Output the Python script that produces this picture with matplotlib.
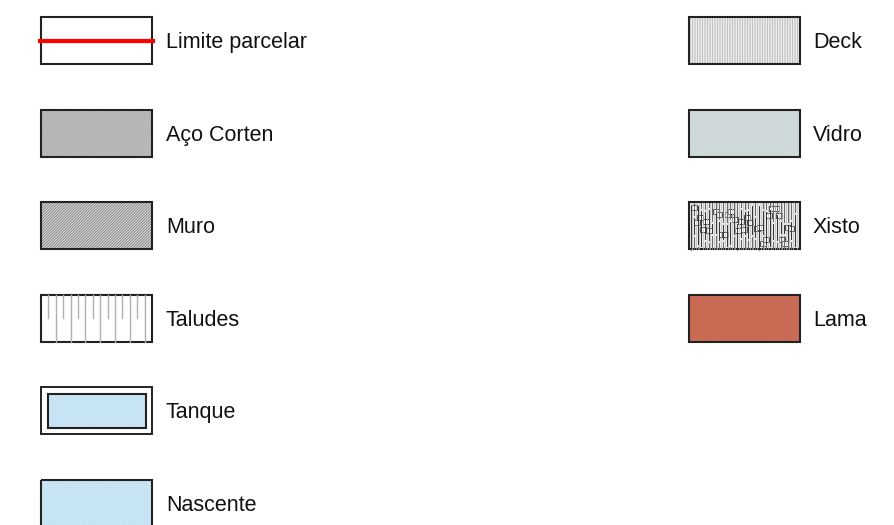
import matplotlib
matplotlib.use("Agg")
import matplotlib.pyplot as plt
from matplotlib.patches import Rectangle
from matplotlib.lines import Line2D

plt.rcParams['font.family'] = ['Liberation Sans', 'DejaVu Sans']

left_labels = ["Limite parcelar", "Aço Corten", "Muro", "Taludes", "Tanque", "Nascente"]
left_styles = ["line", "corten", "muro", "taludes", "tanque", "nascente"]
right_labels = ["Deck", "Vidro", "Xisto", "Lama"]
right_styles = ["deck", "vidro", "xisto", "lama"]

W, H = 894, 525
fig = plt.figure(figsize=(W / 100, H / 100), dpi=100)
ax = fig.add_axes([0, 0, 1, 1])
ax.set_xlim(0, W)
ax.set_ylim(H, 0)
ax.axis("off")

BW, BH = 111, 47
ROW0, STEP = 17, 92.6
EDGE = "#222222"


def hatched(x, y, face, hatch, hcolor, lw_h=0.8):
    plt.rcParams['hatch.linewidth'] = lw_h
    ax.add_patch(Rectangle((x, y), BW, BH, facecolor=face, edgecolor=hcolor,
                           hatch=hatch, linewidth=0))


def border(x, y, w=BW, h=BH, lw=1.5):
    ax.add_patch(Rectangle((x, y), w, h, facecolor="none", edgecolor=EDGE, linewidth=lw))


def draw(style, x, y):
    if style == "line":
        ax.add_patch(Rectangle((x, y), BW, BH, facecolor="white", linewidth=0))
        border(x, y)
        ax.add_line(Line2D([x - 1, x + BW + 1], [y + BH / 2, y + BH / 2], color="#ff0000", lw=3.0))
    elif style == "corten":
        hatched(x, y, "#cdcdcd", "/" * 14, "#a0a0a0", 0.6)
        border(x, y)
    elif style == "muro":
        hatched(x, y, "#dddddd", "/" * 12, "#7a7a7a", 0.6)
        border(x, y)
    elif style == "taludes":
        ax.add_patch(Rectangle((x, y), BW, BH, facecolor="white", linewidth=0))
        n = 15
        for i in range(1, n):
            xx = x + i * BW / n
            yend = y + BH if i % 2 == 0 else y + BH * 0.5
            ax.add_line(Line2D([xx, xx], [y, yend], color="#b0b0b0", lw=1.0))
        border(x, y)
    elif style == "tanque":
        ax.add_patch(Rectangle((x, y), BW, BH, facecolor="white", linewidth=0))
        border(x, y, lw=1.4)
        ix, iy = x + 7, y + 7
        plt.rcParams['hatch.linewidth'] = 0.5
        ax.add_patch(Rectangle((ix, iy), BW - 13, BH - 13, facecolor="#cbe6f6",
                               edgecolor="#bfe0f2", hatch="/" * 10, linewidth=0))
        ax.add_patch(Rectangle((ix, iy), BW - 13, BH - 13, facecolor="none",
                               edgecolor=EDGE, linewidth=1.5))
    elif style == "nascente":
        hatched(x, y, "#cbe6f6", "/" * 10, "#bfe0f2", 0.5)
        border(x, y)
    elif style == "deck":
        hatched(x, y, "white", "|" * 10, "#b5b5b5", 0.6)
        border(x, y)
    elif style == "vidro":
        hatched(x, y, "#d3dcdd", "/" * 10, "#c9d3d4", 0.5)
        border(x, y)
    elif style == "xisto":
        ax.add_patch(Rectangle((x, y), BW, BH, facecolor="#e9e9e9", linewidth=0))
        # vertical slab texture
        ncol = 30
        for k in range(ncol):
            sx = x + 1.5 + k * (BW - 3) / ncol
            a = (k * k * 7 + k * 3) % 17
            b = (k * k * 5 + k * 11) % 19
            top = y + 1 + a * 1.2
            bot = y + BH - 2 - b * 0.8
            ax.add_line(Line2D([sx, sx], [y + 0.5, top], color="#666666", lw=0.7))
            ax.add_line(Line2D([sx, sx], [top + 3, bot], color="#333333", lw=0.7))
            ax.add_line(Line2D([sx, sx], [bot + 3, y + BH - 0.5], color="#666666", lw=0.7))
            ax.add_line(Line2D([sx + 1.6, sx + 1.6], [y + 0.5, y + BH - 0.5], color="#bdbdbd", lw=0.5))
        for k in range(30):
            sx = x + 2 + ((k * 41) % 101)
            sy = y + 3 + ((k * k * 7 + k * 5) % 37)
            ax.add_patch(Rectangle((sx, sy), 5.5, 5, facecolor="white",
                                   edgecolor="#333333", linewidth=0.6))
        border(x, y)
    elif style == "lama":
        hatched(x, y, "#d2735d", "/" * 12, "#c0604a", 0.6)
        border(x, y)


for i, (lab, st) in enumerate(zip(left_labels, left_styles)):
    y = ROW0 + i * STEP
    draw(st, 41, y)
    ax.text(166, y + BH / 2 + 2, lab, fontsize=15.5, va="center", ha="left", color="#111111")

for i, (lab, st) in enumerate(zip(right_labels, right_styles)):
    y = ROW0 + i * STEP
    draw(st, 689, y)
    ax.text(813, y + BH / 2 + 2, lab, fontsize=15.5, va="center", ha="left", color="#111111")

fig.savefig("out.png", dpi=100, facecolor="white")
